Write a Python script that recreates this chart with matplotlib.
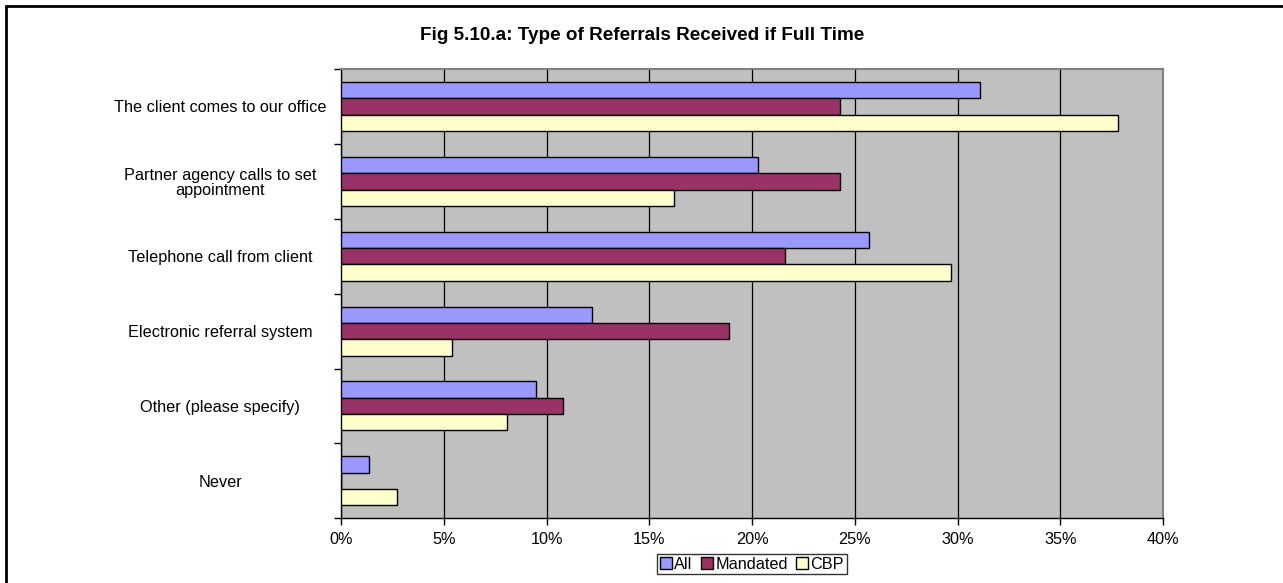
#!/usr/bin/env python3
# plot.py - horizontal grouped bar chart, Excel style
import numpy as np
import matplotlib
matplotlib.use("Agg")
import matplotlib.pyplot as plt
from matplotlib.patches import Rectangle
from matplotlib.ticker import FuncFormatter, MultipleLocator

categories = [
    "The client comes to our office",
    "Partner agency calls to set\nappointment",
    "Telephone call from client",
    "Electronic referral system",
    "Other (please specify)",
    "Never",
]
series_names = ["All", "Mandated", "CBP"]
all_vals = [31.1, 20.3, 25.7, 12.2, 9.5, 1.35]
mandated_vals = [24.3, 24.3, 21.6, 18.9, 10.8, 0.0]
cbp_vals = [37.8, 16.2, 29.7, 5.4, 8.1, 2.7]
colors = ["#9999FF", "#993366", "#FFFFCC"]

plt.rcParams["font.family"] = ["Liberation Sans", "DejaVu Sans"]

fig = plt.figure(figsize=(12.83, 5.83), dpi=100)
ax = fig.add_axes([0.2658, 0.111, 0.6407, 0.7706])

y = np.arange(len(categories))
h = 0.218
for i, (vals, col, name) in enumerate(zip([all_vals, mandated_vals, cbp_vals], colors, series_names)):
    ax.barh(y + (i - 1) * h, vals, height=h, color=col, edgecolor="black",
            linewidth=1.0, label=name, zorder=3)

ax.set_xlim(0, 40)
ax.set_ylim(len(categories) - 0.5, -0.5)
ax.set_facecolor("#C0C0C0")
ax.xaxis.set_major_locator(MultipleLocator(5))
ax.xaxis.set_major_formatter(FuncFormatter(lambda v, p: f"{v:.0f}%"))
ax.grid(axis="x", color="black", linewidth=0.9, zorder=1)

# category labels at centres, tick marks at boundaries
ax.set_yticks(y)
ax.set_yticklabels(categories, fontsize=11.7, ha="center", linespacing=1.05)
ax.set_yticks(np.arange(len(categories) + 1) - 0.5, minor=True)
ax.tick_params(axis="y", which="major", length=0, pad=87)
ax.tick_params(axis="y", which="minor", length=5, width=1, direction="out")
ax.tick_params(axis="x", length=5, width=1, direction="out", labelsize=11.7, pad=5)

for side in ["top", "right"]:
    ax.spines[side].set_color("#808080")
    ax.spines[side].set_linewidth(1.5)
for side in ["left", "bottom"]:
    ax.spines[side].set_color("black")
    ax.spines[side].set_linewidth(1.0)

fig.text(0.5005, 0.939, "Fig 5.10.a: Type of Referrals Received if Full Time",
         ha="center", va="center", fontsize=13.6, fontweight="bold")

leg = fig.legend(loc="center", bbox_to_anchor=(0.586, 0.032), ncol=3, fontsize=11.7,
                 frameon=True, fancybox=False, borderpad=0.15, handlelength=0.75,
                 handleheight=0.75, handletextpad=0.15, columnspacing=0.5,
                 borderaxespad=0)
leg.get_frame().set_edgecolor("black")
leg.get_frame().set_linewidth(1.0)

# outer chart border (right/bottom fall outside the picture)
fig.patches.append(Rectangle((6 / 1283, -0.05), 1.2, 1 - 6 / 583 + 0.05,
                             transform=fig.transFigure, fill=False,
                             edgecolor="black", linewidth=2.0))

fig.savefig("out.png", dpi=100)
